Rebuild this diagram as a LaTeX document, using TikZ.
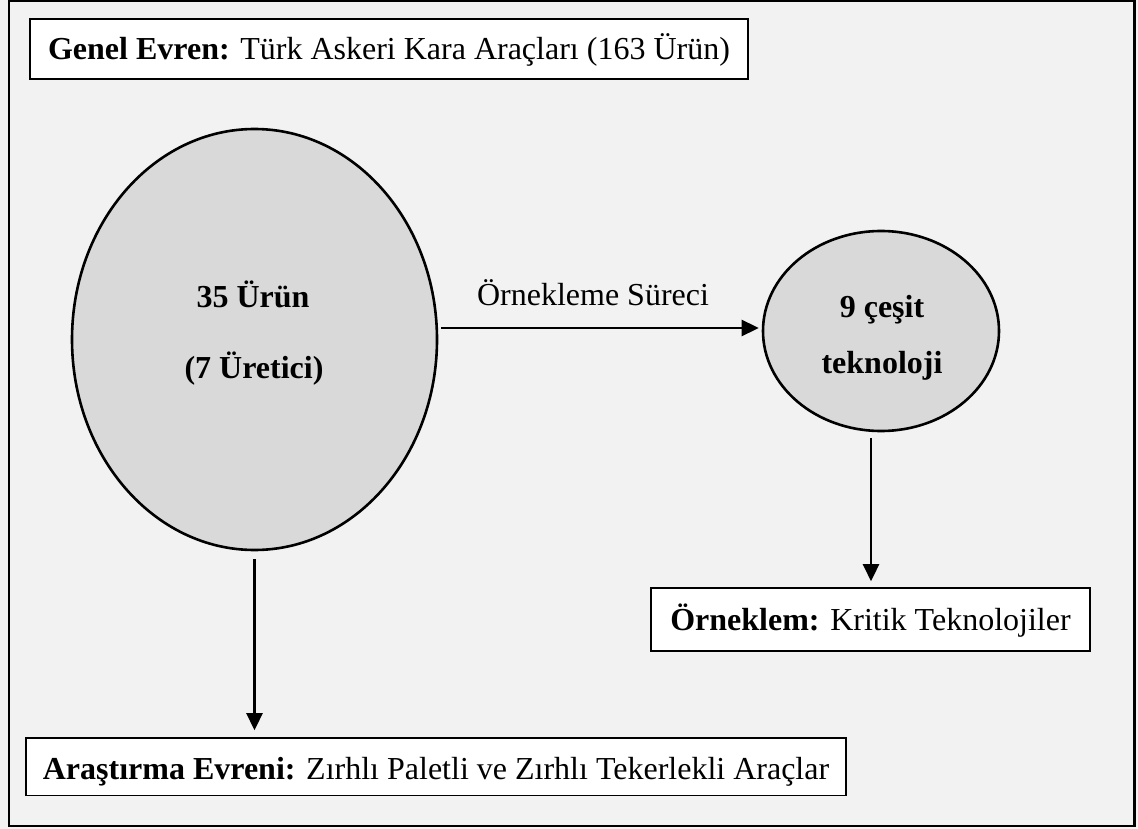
\documentclass[tikz,border=0pt]{standalone}
\usepackage{fontspec}
\setmainfont{Liberation Serif}
\usetikzlibrary{arrows.meta,shapes.geometric}
\definecolor{bgc}{HTML}{F2F2F2}
\definecolor{elc}{HTML}{D9D9D9}
\begin{document}
\begin{tikzpicture}[x=1pt,y=-1pt,
  txt/.style={font=\fontsize{32}{38}\selectfont, inner sep=0pt, anchor=base},
  btxt/.style={font=\fontsize{32}{38}\selectfont\bfseries, inner sep=0pt, anchor=base},
  box/.style={draw=black, line width=1.6pt, fill=white, inner sep=0pt, text height=21pt, text depth=0pt, font=\fontsize{32}{38}\selectfont},
  blob/.style={ellipse, draw=black, line width=2.6pt, fill=elc, inner sep=0pt},
  arr/.style={line width=2.6pt, -{Triangle[length=17pt,width=16pt]}}]
\useasboundingbox (0,0) rectangle (1138,829);
\fill[bgc] (0,0) rectangle (1138,829);
\draw[line width=2.6pt] (9,1) rectangle (1134.5,826);
\node[box, minimum width=718pt, minimum height=60pt] (genel) at (389,49) {\textbf{Genel Evren:} Türk Askeri Kara Araçları (163 Ürün)};
\node[blob, minimum width=365pt, minimum height=421pt] (big) at (254.5,339.5) {};
\node[blob, minimum width=236pt, minimum height=200pt] (small) at (881,331) {};
\node[btxt] (t35) at (253,307) {35 Ürün};
\node[btxt] (t7) at (254,378) {(7 Üretici)};
\node[btxt] (t9) at (882,317) {9 çeşit};
\node[btxt] (ttek) at (882,373) {teknoloji};
\node[txt] (lab) at (593,305) {Örnekleme Süreci};
\node[box, minimum width=439pt, minimum height=63pt] (ornek) at (870.5,619.5) {\textbf{Örneklem:} Kritik Teknolojiler};
\node[box, text height=24.5pt, minimum width=820pt, minimum height=57.5pt] (ara) at (436,766.75) {\textbf{Araştırma Evreni:} Zırhlı Paletli ve Zırhlı Tekerlekli Araçlar};
\draw[arr] ([shift={(3,-11.5)}]big.east) -- ([shift={(-3,-3)}]small.west);
\draw[arr] ([shift={(-10,6)}]small.south) -- ([shift={(0.5,-6)}]ornek.north);
\coordinate (arat) at ([yshift=7pt]ara.north);
\draw[arr] ([yshift=-8pt]big.south) -- (big.south |- arat);
\end{tikzpicture}
\end{document}
